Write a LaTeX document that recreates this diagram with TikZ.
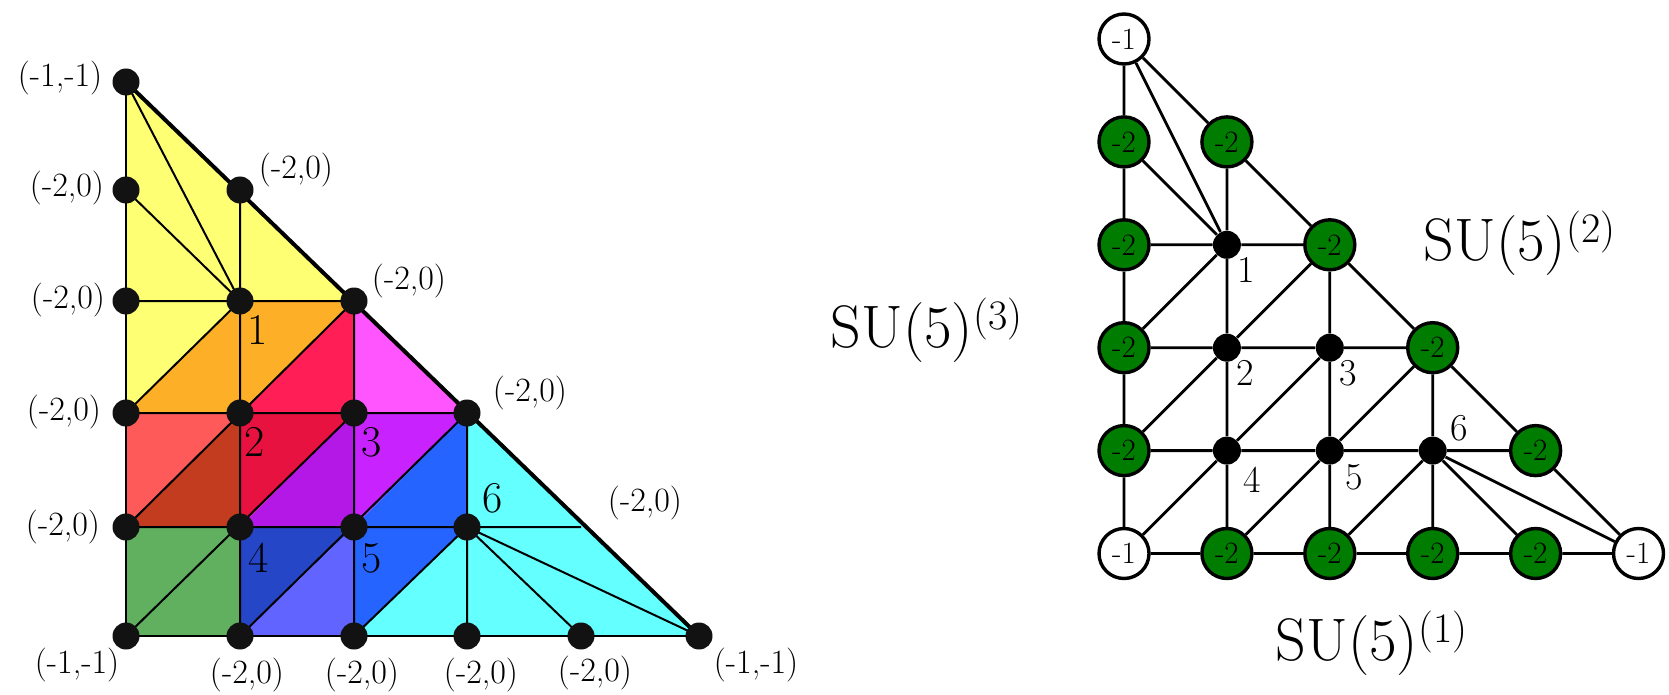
\documentclass[tikz,border=0pt]{standalone}
\usetikzlibrary{positioning}

\definecolor{yellowPatch}{RGB}{255,255,115}
\definecolor{orangePatch}{RGB}{253,175,40}
\definecolor{crimsonPatch}{RGB}{255,30,85}
\definecolor{magentaPatch}{RGB}{255,85,255}
\definecolor{salmonPatch}{RGB}{255,90,90}
\definecolor{brownPatch}{RGB}{196,60,32}
\definecolor{rubyPatch}{RGB}{232,18,64}
\definecolor{purplePatch}{RGB}{180,24,230}
\definecolor{violetPatch}{RGB}{200,34,255}
\definecolor{bluePatch}{RGB}{38,100,255}
\definecolor{cyanPatch}{RGB}{100,255,255}
\definecolor{greenPatch}{RGB}{96,176,96}
\definecolor{navyPatch}{RGB}{38,70,200}
\definecolor{periPatch}{RGB}{98,100,255}
\definecolor{nodeGreen}{RGB}{0,125,0}

\begin{document}
\begin{tikzpicture}[x=0.5pt,y=-0.5pt,
    dot/.style={circle,fill=black!93,inner sep=0pt,minimum size=13.5pt},
    lbl/.style={font=\fontsize{17}{20}\selectfont,inner sep=0pt},
    num/.style={font=\fontsize{22}{26}\selectfont,inner sep=0pt},
    rnum/.style={font=\fontsize{19}{22}\selectfont,inner sep=0pt},
    minusTwo/.style={circle,draw,line width=1.7pt,fill=nodeGreen,inner sep=0pt,minimum size=25pt,font=\fontsize{15.5}{18}\selectfont},
    minusOne/.style={minusTwo,fill=white},
    rdot/.style={circle,fill=black,inner sep=0pt,minimum size=14pt},
    su/.style={font=\fontsize{30}{36}\selectfont,inner sep=0pt}]
    \useasboundingbox (0,0) rectangle (1669,695);
    \def\gap{102.9}

    \foreach \col/\x in {0/126,1/240,2/354,3/467,4/581,5/699}
        \foreach \row/\y in {0/82,1/190,2/301,3/413,4/527,5/636}
            \coordinate (L\col\row) at (\x,\y);

    \fill[yellowPatch] (L00) -- (L22) -- (L12) -- (L03) -- cycle;
    \fill[orangePatch] (L12) -- (L22) -- (L13) -- (L03) -- cycle;
    \fill[crimsonPatch] (L22) -- (L23) -- (L13) -- cycle;
    \fill[magentaPatch] (L22) -- (L33) -- (L23) -- cycle;
    \fill[salmonPatch] (L03) -- (L13) -- (L04) -- cycle;
    \fill[brownPatch] (L13) -- (L14) -- (L04) -- cycle;
    \fill[rubyPatch] (L13) -- (L23) -- (L14) -- cycle;
    \fill[purplePatch] (L23) -- (L24) -- (L14) -- cycle;
    \fill[violetPatch] (L23) -- (L33) -- (L24) -- cycle;
    \fill[bluePatch] (L33) -- (L34) -- (L25) -- (L24) -- cycle;
    \fill[cyanPatch] (L33) -- (L55) -- (L25) -- (L34) -- cycle;
    \fill[greenPatch] (L04) -- (L14) -- (L15) -- (L05) -- cycle;
    \fill[navyPatch] (L14) -- (L24) -- (L15) -- cycle;
    \fill[periPatch] (L24) -- (L25) -- (L15) -- cycle;

    \draw[line width=1pt] (L02) -- (L22) (L03) -- (L33) (L04) -- (L44)
        (L11) -- (L15) (L22) -- (L25) (L33) -- (L35)
        (L00) -- (L12) -- (L01) (L12) -- (L03) (L22) -- (L04) (L23) -- (L05)
        (L33) -- (L15) (L34) -- (L25) (L34) -- (L45) (L34) -- (L55);
    \draw[line width=1.3pt] (L00) -- (L05) -- (L55);
    \draw[line width=2pt] (L00) -- (L55);

    \foreach \p in {00,01,11,02,12,22,03,13,23,33,04,14,24,34,05,15,25,35,45,55}
        \node[dot] (d\p) at (L\p) {};

    \foreach \n/\x/\y in {a/67/188,b/296/170,c/68/300,d/409/281,e/64/412,f/530/393,
                          g/645/503,h/63/527,i/247/675,j/362/675,k/481/675,l/595/673}
        \node[lbl] (tw\n) at (\x,\y) {(-2,0)};
    \foreach \n/\x/\y in {a/60/78,b/77/665,c/756/665}
        \node[lbl] (oo\n) at (\x,\y) {(-1,-1)};
    \foreach \n/\x/\y in {1/258/330,2/255/442,3/372/442,4/259/558,5/372/558,6/493/498}
        \node[num] (n\n) at (\x,\y) {\n};

    \foreach \col/\row in {0/0,0/5,5/5}
        \node[minusOne] (R\col\row) at ({1124+\gap*\col},{39+\gap*\row}) {-1};
    \foreach \col/\row in {0/1,1/1,0/2,2/2,0/3,3/3,0/4,4/4,1/5,2/5,3/5,4/5}
        \node[minusTwo] (R\col\row) at ({1124+\gap*\col},{39+\gap*\row}) {-2};
    \foreach \col/\row in {1/2,1/3,2/3,1/4,2/4,3/4}
        \node[rdot] (R\col\row) at ({1124+\gap*\col},{39+\gap*\row}) {};

    \draw[line width=1.4pt] (R00) -- (R01) -- (R02) -- (R03) -- (R04) -- (R05)
        (R11) -- (R12) -- (R13) -- (R14) -- (R15)
        (R22) -- (R23) -- (R24) -- (R25)
        (R33) -- (R34) -- (R35)
        (R02) -- (R12) -- (R22)
        (R03) -- (R13) -- (R23) -- (R33)
        (R04) -- (R14) -- (R24) -- (R34) -- (R44)
        (R05) -- (R15) -- (R25) -- (R35) -- (R45) -- (R55)
        (R00) -- (R11) -- (R22) -- (R33) -- (R44) -- (R55)
        (R00) -- (R12) -- (R01) (R12) -- (R03)
        (R22) -- (R13) -- (R04) (R23) -- (R14) -- (R05)
        (R33) -- (R24) -- (R15) (R34) -- (R25)
        (R34) -- (R45) (R34) -- (R55);

    \foreach \n/\x/\y in {1/1246/270,2/1245/373,3/1348/373,4/1252/480,5/1354/477,6/1459/428}
        \node[rnum] (m\n) at (\x,\y) {\n};

    \node[su] (su3) at (927,330) {SU(5)\textsuperscript{(3)}};
    \node[su] (su2) at (1520,243) {SU(5)\textsuperscript{(2)}};
    \node[su] (su1) at (1372,643) {SU(5)\textsuperscript{(1)}};
\end{tikzpicture}
\end{document}
